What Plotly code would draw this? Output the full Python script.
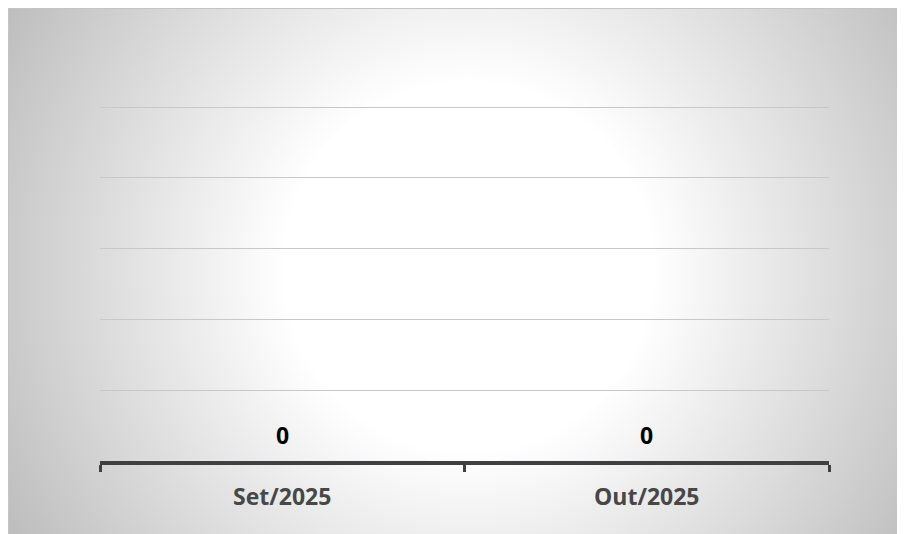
import plotly.graph_objects as go
import urllib.parse

categories = ["Set/2025", "Out/2025"]
values = [0, 0]
value_labels = ["0", "0"]

W, H = 905, 534
axis_top_px, axis_bottom_px = 99, 453   # where value 1.0 and 0 sit (figure px)
T = 93
L, R, B = 92, 905 - 821, 534 - axis_bottom_px
pw, ph = W - L - R, H - T - B
ymax = ph / (axis_bottom_px - axis_top_px)

# radial gradient background covering the whole figure
bw, bh = W, H
cx, cy = bw / 2 + 8, bh / 2 - 8
svg = (
    f'<svg xmlns="http://www.w3.org/2000/svg" width="{bw}" height="{bh}" viewBox="0 0 {bw} {bh}">'
    f'<defs><radialGradient id="g" gradientUnits="userSpaceOnUse" cx="{cx}" cy="{cy}" r="{((bw/2)**2+(bh/2)**2)**0.5:.1f}">'
    '<stop offset="0" stop-color="#ffffff"/><stop offset="0.35" stop-color="#ffffff"/>'
    '<stop offset="1" stop-color="#bebebe"/></radialGradient></defs>'
    f'<rect x="0" y="0" width="{bw}" height="{bh}" fill="url(#g)"/>'
    f'<rect x="0.5" y="0.5" width="{bw}" height="{bh}" fill="none" stroke="#c4c4c4" stroke-width="1"/>'
    '</svg>'
)
src = "data:image/svg+xml;charset=utf-8," + urllib.parse.quote(svg)

fig = go.Figure()
fig.add_trace(go.Bar(x=categories, y=values, marker_color="#4472c4", showlegend=False))

for c, v, t in zip(categories, values, value_labels):
    fig.add_annotation(x=c, y=v, text=f"<b>{t}</b>", showarrow=False, yshift=26,
                       font=dict(family="Open Sans", size=23, color="#000000"))

fig.add_layout_image(
    source=src, xref="paper", yref="paper",
    x=(0 - L) / pw, y=(H - 0 - B) / ph,
    sizex=bw / pw, sizey=bh / ph,
    xanchor="left", yanchor="top", sizing="stretch", layer="below",
)

fig.update_layout(
    width=W, height=H,
    margin=dict(l=L, r=R, t=T, b=B, pad=0),
    paper_bgcolor="#ffffff",
    plot_bgcolor="rgba(0,0,0,0)",
    font=dict(family="Open Sans", size=23, color="#474747"),
    xaxis=dict(
        showline=True, linewidth=4, linecolor="#404040",
        ticks="outside", ticklen=7, tickwidth=3, tickcolor="#404040",
        tickson="boundaries", showgrid=False,
        tickfont=dict(family="Open Sans", size=23, color="#474747", weight="bold"),
        ticklabelstandoff=12,
    ),
    yaxis=dict(
        range=[0, ymax], tickvals=[0.2, 0.4, 0.6, 0.8, 1.0], showticklabels=False, showline=False,
        zeroline=False, showgrid=True, gridcolor="#c8c8c8", gridwidth=1,
    ),
)

fig.write_html("out.html")
